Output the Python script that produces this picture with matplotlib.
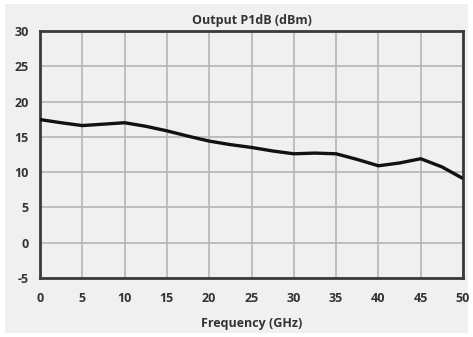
import matplotlib
matplotlib.use('Agg')
import matplotlib.pyplot as plt
from matplotlib.patches import Rectangle

# values
freq_ghz = [0, 2.5, 5, 7.5, 10, 12.5, 15, 17.5, 20, 22.5, 25,
            27.5, 30, 32.5, 35, 37.5, 40, 42.5, 45, 47.5, 50]
p1db_dbm = [17.45, 17.0, 16.6, 16.8, 17.0, 16.5, 15.85, 15.1, 14.4, 13.9, 13.5,
            13.0, 12.6, 12.7, 12.6, 11.8, 10.9, 11.3, 11.9, 10.75, 9.1]
x_ticks = [0, 5, 10, 15, 20, 25, 30, 35, 40, 45, 50]
y_ticks = [-5, 0, 5, 10, 15, 20, 25, 30]

plt.rcParams['font.family'] = ['Open Sans', 'DejaVu Sans']
plt.rcParams['axes.unicode_minus'] = False

fig = plt.figure(figsize=(4.73, 3.37), dpi=100, facecolor='white')
fig.patches.append(Rectangle((5 / 473, 4 / 337), 463 / 473, 329 / 337,
                             transform=fig.transFigure, facecolor='#f0f0f0',
                             edgecolor='none', zorder=-1))
ax = fig.add_axes([40 / 473, 1 - 278 / 337, 423 / 473, 247 / 337])
ax.set_facecolor('#f0f0f0')

ax.plot(freq_ghz, p1db_dbm, color='#111111', linewidth=2.4,
        solid_capstyle='butt', solid_joinstyle='round', zorder=3)

ax.set_xlim(0, 50)
ax.set_ylim(-5, 30)
ax.set_xticks(x_ticks)
ax.set_yticks(y_ticks)
ax.grid(True, color='#b4b4b4', linewidth=1.2)
ax.set_axisbelow(True)
for s in ax.spines.values():
    s.set_color('#3a3a3a')
    s.set_linewidth(2)
ax.tick_params(axis='x', length=0, labelsize=9, colors='#333333', pad=10)
ax.tick_params(axis='y', length=0, labelsize=9, colors='#333333', pad=8)
for lbl in ax.get_xticklabels() + ax.get_yticklabels():
    lbl.set_fontweight('bold')

ax.set_title('Output P1dB (dBm)', fontsize=9, fontweight='bold', color='#333333', pad=5)
ax.set_xlabel('Frequency (GHz)', fontsize=9, fontweight='bold', color='#333333', labelpad=9)

fig.savefig('out.png', dpi=100, facecolor='white')
